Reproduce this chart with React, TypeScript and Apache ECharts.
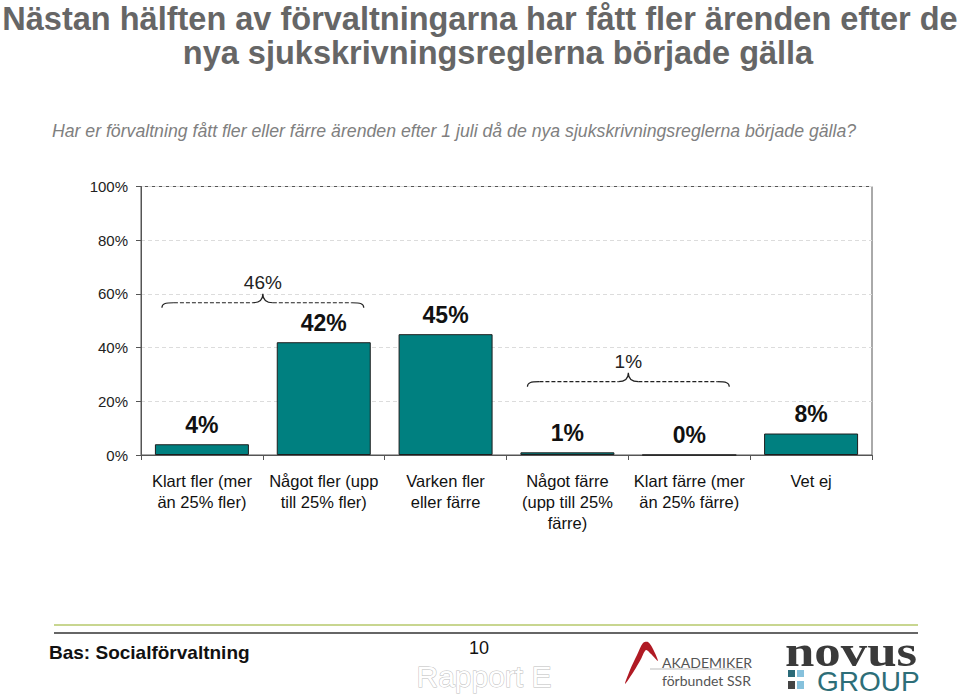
import React, { useEffect, useRef } from "react";
import * as echarts from "echarts";

const titleLines = [
  "Nästan hälften av förvaltningarna har fått fler ärenden efter de",
  "nya sjukskrivningsreglerna började gälla",
];
const subtitle =
  "Har er förvaltning fått fler eller färre ärenden efter 1 juli då de nya sjukskrivningsreglerna började gälla?";
const categories = [
  "Klart fler (mer\nän 25% fler)",
  "Något fler (upp\ntill 25% fler)",
  "Varken fler\neller färre",
  "Något färre\n(upp till 25%\nfärre)",
  "Klart färre (mer\nän 25% färre)",
  "Vet ej",
];
const values = [4, 42, 45, 1, 0, 8];
const yTicks = [0, 20, 40, 60, 80, 100];
// brace groups: indices of bars summed, and the level (in %) of the brace line
const braceGroups = [
  [0, 1],
  [3, 4],
];
const braceLevels = [56.7, 27.3];
const footerBase = "Bas: Socialförvaltning";
const pageNumber = "10";

const FONT = "'Liberation Sans', Arial, Helvetica, sans-serif";
const BAR_W = 94;

export default function App() {
  const ref = useRef<HTMLDivElement>(null);
  useEffect(() => {
    const chart = echarts.init(ref.current!, null, { renderer: "svg" });
    const braceData = braceGroups.map((g, i) => [g[0], braceLevels[i]]);

    const option: any = {
      animation: false,
      backgroundColor: "#ffffff",
      textStyle: { fontFamily: FONT },
      grid: {
        show: true,
        borderColor: "#555",
        borderWidth: 1,
        left: 141,
        right: 88,
        top: 186.5,
        bottom: 241,
        containLabel: false,
      },
      xAxis: {
        type: "category",
        data: categories,
        axisLine: { lineStyle: { color: "#555", width: 1 } },
        axisTick: { show: true, length: 5, lineStyle: { color: "#555" } },
        axisLabel: {
          interval: 0,
          fontSize: 16.5,
          lineHeight: 21,
          color: "#111",
          margin: 15,
          fontFamily: FONT,
        },
        splitLine: { show: false },
      },
      yAxis: {
        type: "value",
        min: yTicks[0],
        max: yTicks[yTicks.length - 1],
        interval: 20,
        axisLine: { show: true, lineStyle: { color: "#555", width: 1 } },
        axisTick: { show: true, length: 5, lineStyle: { color: "#555" } },
        axisLabel: {
          formatter: "{value}%",
          fontSize: 15,
          color: "#222",
          margin: 13,
          fontFamily: FONT,
        },
        splitLine: { show: true, lineStyle: { color: "#dcdcdc", type: [4, 3], width: 1 } },
      },
      series: [
        {
          type: "bar",
          data: values,
          barWidth: BAR_W,
          itemStyle: { color: "#008080", borderColor: "#1e1e1e", borderWidth: 1 },
          label: {
            show: true,
            position: "top",
            distance: 8,
            formatter: "{c}%",
            fontSize: 23,
            fontWeight: "bold",
            color: "#111",
            fontFamily: FONT,
          },
          silent: true,
        },
        {
          type: "custom",
          data: braceData,
          clip: false,
          silent: true,
          z: 10,
          renderItem: (params: any, api: any) => {
            const i = params.dataIndex;
            const g = braceGroups[i];
            const level = braceLevels[i];
            const pA = api.coord([g[0], level]);
            const pB = api.coord([g[g.length - 1], level]);
            const y = pA[1];
            const x0 = pA[0] - BAR_W / 2 + 7;
            const x1 = pB[0] + BAR_W / 2 - 7;
            const xm = (x0 + x1) / 2;
            const sum = g.reduce((s, k) => s + values[k], 0);
            const r = 12;
            const c = 10;
            const solid = { stroke: "#222", lineWidth: 1.2, fill: "none" };
            const dashed = { stroke: "#222", lineWidth: 1.2, fill: "none", lineDash: [4, 2] };
            return {
              type: "group",
              children: [
                {
                  type: "path",
                  shape: {
                    pathData: `M${x0},${y + 5} C${x0},${y + 1} ${x0 + 3},${y} ${x0 + r},${y}`,
                  },
                  style: solid,
                },
                {
                  type: "line",
                  shape: { x1: x0 + r, y1: y, x2: xm - c, y2: y },
                  style: dashed,
                },
                {
                  type: "path",
                  shape: {
                    pathData: `M${xm - c},${y} C${xm - 4},${y} ${xm},${y - 3} ${xm},${y - 9} C${xm},${y - 3} ${xm + 4},${y} ${xm + c},${y}`,
                  },
                  style: solid,
                },
                {
                  type: "line",
                  shape: { x1: xm + c, y1: y, x2: x1 - r, y2: y },
                  style: dashed,
                },
                {
                  type: "path",
                  shape: {
                    pathData: `M${x1 - r},${y} C${x1 - 3},${y} ${x1},${y + 1} ${x1},${y + 5}`,
                  },
                  style: solid,
                },
                {
                  type: "text",
                  style: {
                    x: xm,
                    y: y - 20,
                    text: sum + "%",
                    fontSize: 19,
                    fontFamily: FONT,
                    fill: "#222",
                    align: "center",
                    verticalAlign: "middle",
                  },
                },
              ],
            };
          },
        },
      ],
      graphic: [
        {
          type: "text",
          x: 480,
          y: 19,
          style: {
            text: titleLines[0],
            fontSize: 32.5,
            fontWeight: "bold",
            fontFamily: FONT,
            fill: "#666",
            align: "center",
            verticalAlign: "middle",
          },
        },
        {
          type: "text",
          x: 498,
          y: 53,
          style: {
            text: titleLines[1],
            fontSize: 32.5,
            fontWeight: "bold",
            fontFamily: FONT,
            fill: "#666",
            align: "center",
            verticalAlign: "middle",
          },
        },
        {
          type: "text",
          x: 454,
          y: 131,
          style: {
            text: subtitle,
            fontSize: 17.7,
            fontStyle: "italic",
            fontFamily: FONT,
            fill: "#808080",
            align: "center",
            verticalAlign: "middle",
          },
        },
        // footer lines
        {
          type: "line",
          shape: { x1: 54, y1: 625, x2: 918, y2: 625 },
          style: { stroke: "#c8d690", lineWidth: 2 },
        },
        {
          type: "line",
          shape: { x1: 54, y1: 633, x2: 918, y2: 633 },
          style: { stroke: "#666", lineWidth: 2 },
        },
        {
          type: "text",
          x: 49,
          y: 652,
          style: {
            text: footerBase,
            fontSize: 19,
            fontWeight: "bold",
            fontFamily: FONT,
            fill: "#111",
            align: "left",
            verticalAlign: "middle",
          },
        },
        {
          type: "text",
          x: 479,
          y: 648,
          style: {
            text: pageNumber,
            fontSize: 18,
            fontFamily: FONT,
            fill: "#111",
            align: "center",
            verticalAlign: "middle",
          },
        },
        {
          type: "text",
          x: 484,
          y: 676,
          style: {
            text: "Rapport E",
            fontSize: 30,
            fontFamily: FONT,
            fill: "#ffffff",
            stroke: "#bdbdbd",
            lineWidth: 1,
            align: "center",
            verticalAlign: "middle",
          },
        },
        // Akademiker logo
        {
          type: "polygon",
          shape: {
            points: [
              [625, 684],
              [630, 670],
              [637, 655],
              [643, 643],
              [648, 642],
              [653, 649],
              [658, 661],
              [651, 654],
              [646, 650],
              [641, 659],
              [634, 671],
            ],
            smooth: 0.3,
          },
          style: { fill: "#b01a24" },
        },
        {
          type: "text",
          x: 662,
          y: 662,
          style: {
            text: "AKADEMIKER",
            fontSize: 14,
            fontFamily: "Lato, 'Open Sans', sans-serif",
            fill: "#555",
            align: "left",
            verticalAlign: "middle",
          },
        },
        {
          type: "line",
          shape: { x1: 650, y1: 669, x2: 748, y2: 669 },
          style: { stroke: "#bbb", lineWidth: 1 },
        },
        {
          type: "text",
          x: 662,
          y: 680,
          style: {
            text: "förbundet SSR",
            fontSize: 14,
            fontFamily: "Lato, 'Open Sans', sans-serif",
            fill: "#555",
            align: "left",
            verticalAlign: "middle",
          },
        },
        // Novus logo
        {
          type: "text",
          x: 785,
          y: 652,
          scaleX: 1.2,
          style: {
            text: "novus",
            fontSize: 44,
            fontWeight: "bold",
            fontFamily: "'Liberation Serif', 'DejaVu Serif', serif",
            fill: "#3a3a3a",
            align: "left",
            verticalAlign: "middle",
          },
        },
        {
          type: "text",
          x: 817,
          y: 681,
          style: {
            text: "GROUP",
            fontSize: 28,
            fontFamily: FONT,
            fill: "#2d6e78",
            align: "left",
            verticalAlign: "middle",
          },
        },
        { type: "rect", shape: { x: 788, y: 670, width: 7, height: 7 }, style: { fill: "#2a6a78" } },
        { type: "rect", shape: { x: 797, y: 670, width: 7, height: 7 }, style: { fill: "#86c1dc" } },
        { type: "rect", shape: { x: 788, y: 681, width: 7, height: 8 }, style: { fill: "#444" } },
        { type: "rect", shape: { x: 797, y: 681, width: 7, height: 8 }, style: { fill: "#86c1dc" } },
      ],
    };
    chart.setOption(option);
    return () => chart.dispose();
  }, []);
  return <div ref={ref} style={{ width: 960, height: 696, position: "absolute", left: 0, top: 0 }} />;
}
